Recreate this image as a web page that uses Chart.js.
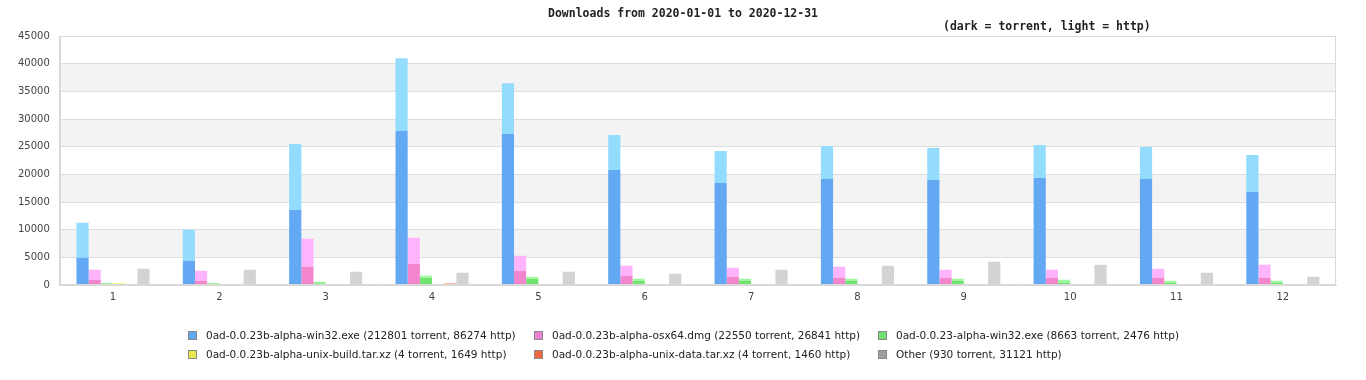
<!DOCTYPE html>
<html>
<head>
<meta charset="utf-8">
<script src="https://cdn.jsdelivr.net/npm/chart.js@4/dist/chart.umd.min.js"></script>
<style>
  html, body { margin: 0; padding: 0; background: #fff; }
  #wrap { position: relative; width: 1366px; height: 380px; overflow: hidden; }
  #c { position: absolute; left: 0; top: 0; }
  .ttl { position: absolute; font-family: "DejaVu Sans Mono", monospace; font-weight: bold; font-size: 11.5px; color: #222; white-space: nowrap; }
  #legend { position: absolute; left: 0; top: 0; width: 1366px; height: 380px; pointer-events: none; }
  .li { position: absolute; font-family: "DejaVu Sans", sans-serif; font-size: 10.5px; color: #222; white-space: nowrap; line-height: 12px; }
  .li .box { position: absolute; left: -18px; top: 2px; width: 7px; height: 7px; border: 1px solid #888; }
</style>
</head>
<body>
<div id="wrap">
  <canvas id="c" width="1366" height="380"></canvas>
  <div class="ttl" id="title"></div>
  <div class="ttl" id="subtitle"></div>
  <div id="legend"></div>
</div>
<script>
// ---- Data ----
const titleText = "Downloads from 2020-01-01 to 2020-12-31";
const subtitleText = "(dark = torrent, light = http)";
const months = ["1","2","3","4","5","6","7","8","9","10","11","12"];

const fileNames = [
  "0ad-0.0.23b-alpha-win32.exe (212801 torrent, 86274 http)",
  "0ad-0.0.23b-alpha-osx64.dmg (22550 torrent, 26841 http)",
  "0ad-0.0.23-alpha-win32.exe (8663 torrent, 2476 http)",
  "0ad-0.0.23b-alpha-unix-build.tar.xz (4 torrent, 1649 http)",
  "0ad-0.0.23b-alpha-unix-data.tar.xz (4 torrent, 1460 http)",
  "Other (930 torrent, 31121 http)"
];

const win32Torrent = [4920, 4380, 13570, 27820, 27280, 20790, 18440, 19160, 18980, 19340, 19160, 16820];
const win32Http    = [6310, 5590, 11900, 13160, 9190, 6310, 5770, 5950, 5770, 5950, 5770, 6670];
const osxTorrent   = [950, 780, 3300, 3840, 2580, 1680, 1500, 1320, 1320, 1320, 1320, 1320];
const osxHttp      = [1800, 1800, 5050, 4690, 2700, 1800, 1620, 1980, 1440, 1440, 1620, 2340];
const w23Torrent   = [0, 0, 300, 1320, 1140, 780, 780, 780, 780, 420, 420, 420];
const w23Http      = [380, 360, 300, 360, 360, 360, 360, 360, 360, 540, 360, 360];
const buildTorrent = [0, 0, 0, 1, 0, 0, 1, 0, 1, 0, 0, 1];
const buildHttp    = [350, 170, 150, 140, 130, 140, 120, 0, 130, 140, 130, 130];
const dataTorrent  = [0, 0, 1, 0, 1, 0, 0, 1, 0, 0, 1, 0];
const dataHttp     = [180, 170, 160, 300, 140, 0, 120, 0, 120, 0, 120, 130];
const otherTorrent = [80, 75, 80, 75, 80, 75, 80, 75, 80, 80, 75, 75];
const otherHttp    = [2860, 2685, 2320, 2145, 2320, 1965, 2680, 3405, 4120, 3580, 2145, 1425];

const yTicksMax = 45000;
const yTickStep = 5000;

// ---- Styles ----
const darkColors  = ["#62a8f2", "#f285cc", "#6ee46e", "#e6e650", "#f06840", "#c4c4c4"];
const lightColors = ["#94dcfe", "#fdb4fd", "#9ef99e", "#fdfd8c", "#fca080", "#d3d3d3"];
const legendColors = ["#62a8f2", "#f080d0", "#70e070", "#e8e84a", "#f06840", "#a0a0a0"];

const torrentSeries = [win32Torrent, osxTorrent, w23Torrent, buildTorrent, dataTorrent, otherTorrent];
const httpSeries    = [win32Http, osxHttp, w23Http, buildHttp, dataHttp, otherHttp];

const datasets = [];
fileNames.forEach((name, i) => {
  datasets.push({ label: name + " torrent", data: torrentSeries[i], backgroundColor: darkColors[i], stack: "s" + i, borderWidth: 0 });
  datasets.push({ label: name + " http", data: httpSeries[i], backgroundColor: lightColors[i], stack: "s" + i, borderWidth: 0 });
});

const bandsPlugin = {
  id: "bands",
  beforeDraw(chart) {
    const { ctx, chartArea, scales } = chart;
    const y = scales.y;
    ctx.save();
    ctx.fillStyle = "#f3f3f3";
    const ticks = y.ticks.map(t => t.value).sort((a, b) => a - b);
    for (let i = 0; i < ticks.length - 1; i++) {
      if (i % 2 === 1) {
        const top = y.getPixelForValue(ticks[i + 1]);
        const bot = y.getPixelForValue(ticks[i]);
        ctx.fillRect(chartArea.left, top, chartArea.right - chartArea.left, bot - top);
      }
    }
    ctx.restore();
  },
  afterDraw(chart) {
    const { ctx, chartArea } = chart;
    ctx.save();
    ctx.strokeStyle = "#d9d9d9";
    ctx.lineWidth = 1;
    ctx.strokeRect(Math.round(chartArea.left) + 0.5, Math.round(chartArea.top) + 0.5,
      Math.round(chartArea.right - chartArea.left) - 1, Math.round(chartArea.bottom - chartArea.top) - 1);
    ctx.restore();
  }
};

const chart = new Chart(document.getElementById("c"), {
  type: "bar",
  data: { labels: months, datasets },
  options: {
    responsive: false,
    devicePixelRatio: 1,
    animation: false,
    layout: { padding: { left: 8, right: 30, top: 36, bottom: 71 } },
    plugins: { legend: { display: false }, title: { display: false }, tooltip: { enabled: false } },
    datasets: { bar: { categoryPercentage: 0.687, barPercentage: 1.0 } },
    scales: {
      x: {
        stacked: true,
        grid: { display: false, drawTicks: false },
        border: { display: true, color: "#d9d9d9" },
        ticks: { color: "#444", font: { family: "DejaVu Sans", size: 10 }, padding: 6 }
      },
      y: {
        stacked: true,
        min: 0, max: yTicksMax,
        grid: { color: "#dedede", drawTicks: false },
        border: { display: true, color: "#d9d9d9" },
        ticks: { stepSize: yTickStep, color: "#444", font: { family: "DejaVu Sans", size: 10 }, padding: 10,
                 callback: v => String(v) }
      }
    }
  },
  plugins: [bandsPlugin]
});

// ---- Titles ----
const t = document.getElementById("title");
t.textContent = titleText;
const st = document.getElementById("subtitle");
st.textContent = subtitleText;
t.style.top = "6px";
t.style.left = (683 - t.offsetWidth / 2) + "px";
st.style.top = "19px";
st.style.left = (1047 - st.offsetWidth / 2) + "px";

// ---- Legend ----
const legend = document.getElementById("legend");
const colX = [206, 552, 896];
const rowY = [329, 348];
fileNames.forEach((name, i) => {
  const d = document.createElement("div");
  d.className = "li";
  d.style.left = colX[i % 3] + "px";
  d.style.top = rowY[Math.floor(i / 3)] + "px";
  const b = document.createElement("span");
  b.className = "box";
  b.style.background = legendColors[i];
  d.appendChild(b);
  d.appendChild(document.createTextNode(name));
  legend.appendChild(d);
});
</script>
</body>
</html>
